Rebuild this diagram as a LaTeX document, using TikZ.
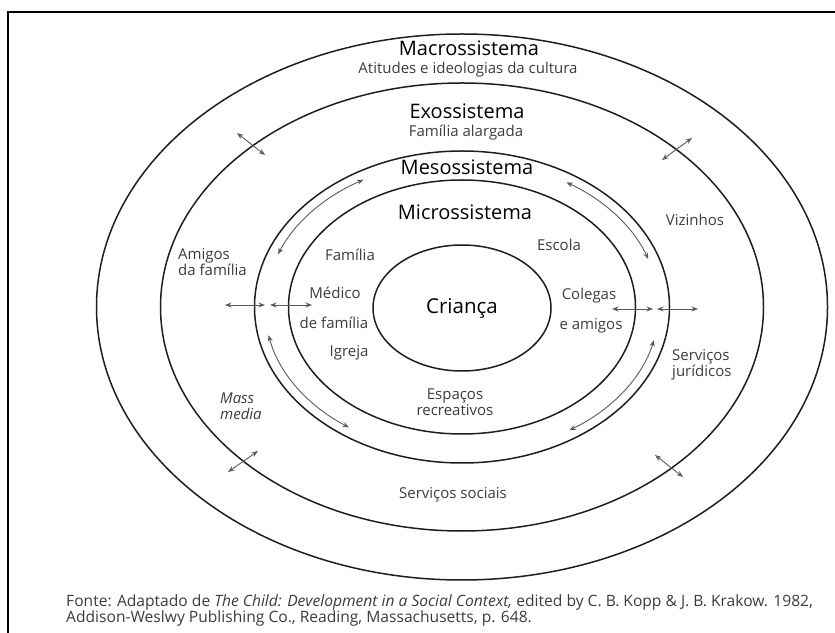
\documentclass[tikz,border=0pt]{standalone}
\usepackage{fontspec}
\setmainfont{Open Sans}
\usetikzlibrary{arrows.meta}
\definecolor{ringcol}{HTML}{1E1E1E}
\definecolor{labcol}{HTML}{3C3C3C}
\definecolor{arrcol}{HTML}{5A5A5A}
\tikzset{
  ring/.style={draw=ringcol, line width=1.5pt},
  sysname/.style={font=\fontsize{20}{24}\selectfont, text=black, inner sep=0pt},
  sysnote/.style={font=\fontsize{15}{18}\selectfont, text=labcol, inner sep=0pt},
  lab/.style={font=\fontsize{15}{16}\selectfont, text=labcol, inner sep=0pt, align=center},
  link/.style={draw=arrcol, line width=0.9pt,
    {Stealth[length=6.5pt,width=5pt]}-{Stealth[length=6.5pt,width=5pt]}},
  source/.style={font=\fontsize{15.6}{16}\selectfont, text=labcol, inner sep=0pt, anchor=west}
}

\begin{document}
\begin{tikzpicture}[x=1pt,y=1pt]
  \useasboundingbox (0,0) rectangle (835,632);
  \coordinate (O) at (462,325);
  % frame
  \draw[line width=2.5pt] (8,-5) -- (8,620) -- (845,620);
  % rings
  \draw[ring] (O) ellipse[x radius=365.5pt, y radius=273pt];
  \draw[ring] (O) ellipse[x radius=301.5pt, y radius=224pt];
  \draw[ring] (O) ellipse[x radius=207.5pt, y radius=156pt];
  \draw[ring] (O) ellipse[x radius=173.5pt, y radius=127pt];
  \draw[ring] (462,324) ellipse[x radius=89pt, y radius=63pt];
  % system names
  \node[sysname] (macro) at (469,584) {Macrossistema};
  \node[sysnote] (cultura) at (468,562) {Atitudes e ideologias da cultura};
  \node[sysname] (exo) at (467,521) {Exossistema};
  \node[sysnote] (alargada) at (466,499) {Família alargada};
  \node[sysname] (meso) at (467,465) {Mesossistema};
  \node[sysname] (micro) at (465,420) {Microssistema};
  \node[sysname, font=\fontsize{20.5}{24}\selectfont] (crianca) at (462,324) {Criança};
  % settings
  \node[lab] (familia) at (350,377) {Família};
  \node[lab] (escola) at (559,387) {Escola};
  \node[lab] (medico) at (335,339) {Médico};
  \node[lab] (medfam) at (334,309) {de família};
  \node[lab] (igreja) at (349,279) {Igreja};
  \node[lab] (colegas) at (589,336) {Colegas};
  \node[lab] (eamigos) at (591,306) {e amigos};
  \node[lab] (espacos) at (455,230) {Espaços\\recreativos};
  \node[lab, anchor=west, align=left] (amigos) at (178,370) {Amigos\\da família};
  \node[lab, anchor=west, align=left, font=\fontsize{15}{16}\selectfont\itshape] (mass) at (220,226) {Mass\\media};
  \node[lab] (vizinhos) at (695,412) {Vizinhos};
  \node[lab, anchor=west, align=left] (juridicos) at (672,267) {Serviços\\jurídicos};
  \node[lab] (sociais) at (453,137) {Serviços sociais};
  % links across the rings
  \coordinate (hl1) at (225,327);
  \coordinate (hl2) at (265,327);
  \coordinate (hl3) at (270,327);
  \coordinate (hl4) at (312,327);
  \coordinate (hr1) at (612,323);
  \coordinate (hr2) at (653,323);
  \coordinate (hr3) at (657,323);
  \coordinate (hr4) at (698,323);
  \draw[link] (hl1) -- (hl2);
  \draw[link] (hl3) -- (hl4);
  \draw[link] (hr1) -- (hr2);
  \draw[link] (hr3) -- (hr4);
  \coordinate (dUL1) at (237,499);
  \coordinate (dUL2) at (265,477);
  \coordinate (dUR1) at (662,472);
  \coordinate (dUR2) at (692,494);
  \coordinate (dLL1) at (228,160);
  \coordinate (dLL2) at (258,181);
  \coordinate (dLR1) at (655,177);
  \coordinate (dLR2) at (683,155);
  \draw[link] (dUL1) -- (dUL2);
  \draw[link] (dUR1) -- (dUR2);
  \draw[link] (dLL1) -- (dLL2);
  \draw[link] (dLR1) -- (dLR2);
  % links along the mesosystem
  \coordinate (aUL) at ([shift={(159:197 and 147)}]O);
  \coordinate (aUR) at ([shift={(58:197 and 147)}]O);
  \coordinate (aLR) at ([shift={(-13:197 and 147)}]O);
  \coordinate (aLL) at ([shift={(191:197 and 147)}]O);
  \draw[link] (aUL) arc[start angle=159, end angle=120, x radius=197pt, y radius=147pt];
  \draw[link] (aUR) arc[start angle=58, end angle=19, x radius=197pt, y radius=147pt];
  \draw[link] (aLR) arc[start angle=-13, end angle=-57, x radius=197pt, y radius=147pt];
  \draw[link] (aLL) arc[start angle=191, end angle=235, x radius=197pt, y radius=147pt];
  % source
  \node[source] (fonte) at (66,30) {Fonte: Adaptado de \textit{The Child: Development in a Social Context,} edited by C. B. Kopp \& J. B. Krakow. 1982,};
  \node[source] (fonte2) at (66,14) {Addison-Weslwy Publishing Co., Reading, Massachusetts, p. 648.};
\end{tikzpicture}
\end{document}
